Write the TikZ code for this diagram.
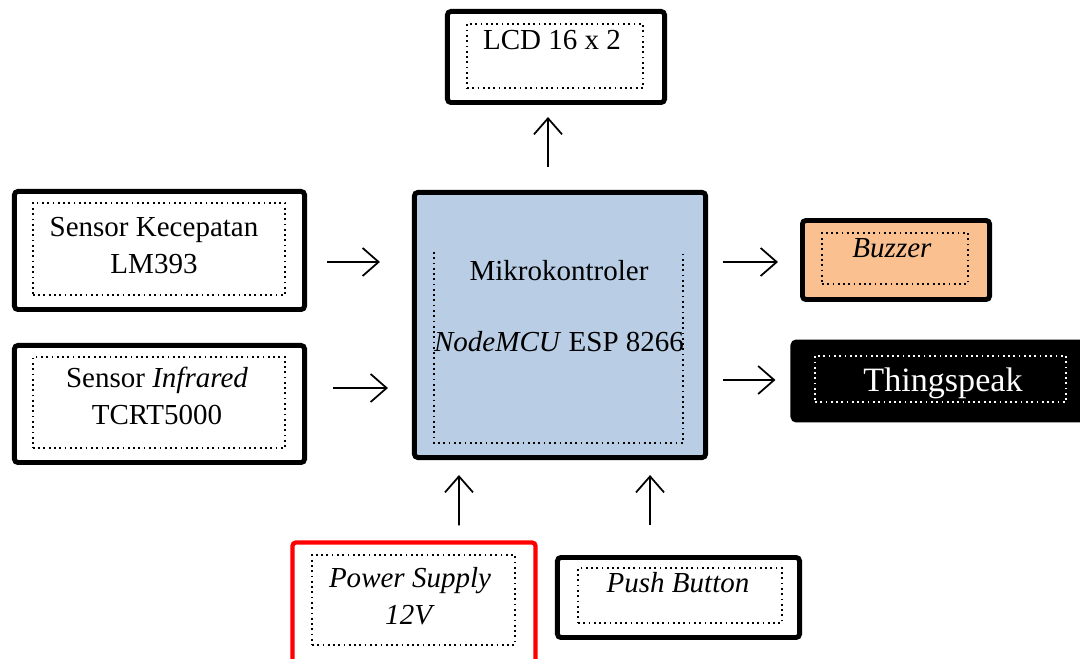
\documentclass[tikz,border=0pt]{standalone}
\usepackage{fontspec}
\setmainfont{Liberation Serif}
\usetikzlibrary{arrows.meta}
\definecolor{mkblue}{HTML}{B9CDE5}
\definecolor{bzorange}{HTML}{FAC090}

\begin{document}
\begin{tikzpicture}[x=0.01cm,y=-0.01cm,>={Straight Barb[length=1.6mm,width=2.8mm]},
  blk/.style={draw, line width=1.4pt, rounded corners=1pt, inner sep=0pt},
  dotbox/.style={draw, densely dotted, line width=0.5pt, inner sep=0pt},
  txt/.style={anchor=base, align=center, inner sep=0pt, font=\fontsize{8.25}{10.8}\selectfont},
  arr/.style={->, line width=0.5pt}]
\useasboundingbox (0,0) rectangle (1080,659);

\node[blk, minimum width=2.17cm, minimum height=0.91cm] (lcd) at (556,57) {};
\node[blk, fill=mkblue, minimum width=2.91cm, minimum height=2.65cm] (mk) at (560,325) {};
\node[blk, minimum width=2.90cm, minimum height=1.18cm] (sk) at (159.5,250.5) {};
\node[blk, minimum width=2.90cm, minimum height=1.17cm] (si) at (159.5,404) {};
\node[blk, fill=bzorange, minimum width=1.87cm, minimum height=0.79cm] (bz) at (896,260) {};
\node[blk, fill=black, minimum width=2.92cm, minimum height=0.78cm] (ts) at (939,381) {};
\node[blk, draw=red, line width=1.2pt, minimum width=2.43cm, minimum height=1.35cm] (ps) at (414,610) {};
\node[blk, minimum width=2.42cm, minimum height=0.80cm] (pb) at (678.5,597.5) {};

\node[dotbox, minimum width=1.76cm, minimum height=0.64cm] (lcdin) at (555,56) {};
\draw[densely dotted, line width=0.5pt] (434,252) -- (434,443) -- (683,443) -- (683,252);
\node[dotbox, minimum width=2.52cm, minimum height=0.92cm] (skin) at (159,249) {};
\node[dotbox, minimum width=2.52cm, minimum height=0.91cm] (siin) at (159,402.5) {};
\node[dotbox, minimum width=1.46cm, minimum height=0.51cm] (bzin) at (895,258.5) {};
\node[dotbox, draw=white, minimum width=2.51cm, minimum height=0.46cm] (tsin) at (940.5,379) {};
\node[dotbox, minimum width=2.03cm, minimum height=0.90cm] (psin) at (413.5,600) {};
\node[dotbox, minimum width=2.04cm, minimum height=0.55cm] (pbin) at (680,595.5) {};

\node[txt] (lcdtxt) at (552,50) {LCD 16 x 2};
\node[txt] (mktxt) at (559,352) {Mikrokontroler\\[9.6pt]\textit{NodeMCU} ESP 8266};
\node[txt] (sktxt) at (154,274) {Sensor Kecepatan\\LM393};
\node[txt] (sitxt) at (157,425) {Sensor \textit{Infrared}\\TCRT5000};
\node[txt] (bztxt) at (892,258) {\textit{Buzzer}};
\node[txt, text=white, font=\fontsize{9.7}{12}\selectfont] (tstxt) at (943,392) {Thingspeak};
\node[txt] (pstxt) at (410,625) {\textit{Power Supply}\\\textit{12V}};
\node[txt] (pbtxt) at (678,593) {\textit{Push Button}};

\draw[arr] ([xshift=-0.12cm,yshift=0.23cm]mk.north) -- ([xshift=-0.08cm,yshift=-0.12cm]lcd.south);
\draw[arr] ([xshift=0.2cm,yshift=-0.115cm]sk.east) -- ([xshift=-0.32cm,yshift=0.63cm]mk.west);
\draw[arr] ([xshift=0.26cm,yshift=0.16cm]si.east) -- ([xshift=-0.24cm,yshift=-0.63cm]mk.west);
\draw[arr] ([xshift=0.15cm,yshift=0.63cm]mk.east) -- ([xshift=-0.22cm,yshift=-0.02cm]bz.west);
\draw[arr] ([xshift=0.15cm,yshift=-0.55cm]mk.east) -- ([xshift=-0.15cm,yshift=0.01cm]ts.west);
\draw[arr] ([xshift=0.45cm,yshift=0.15cm]ps.north) -- ([xshift=-1.01cm,yshift=-0.15cm]mk.south);
\draw[arr] ([xshift=-0.285cm,yshift=0.3cm]pb.north) -- ([xshift=0.9cm,yshift=-0.15cm]mk.south);
\end{tikzpicture}
\end{document}
